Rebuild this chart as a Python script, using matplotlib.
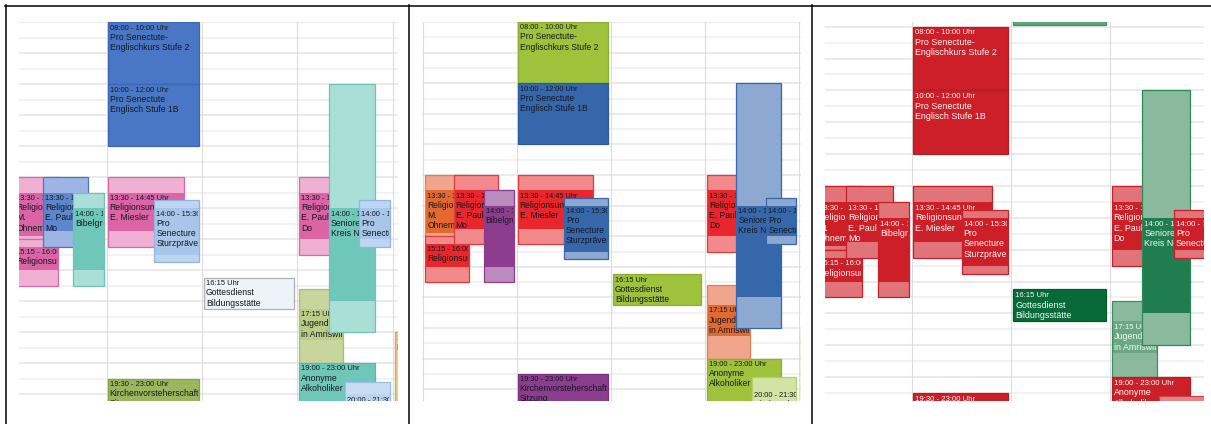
import matplotlib
matplotlib.use("Agg")
import matplotlib.pyplot as plt
from matplotlib.patches import Rectangle
from matplotlib.lines import Line2D
from matplotlib.transforms import offset_copy, Bbox, TransformedBbox

W, H, DPI = 1211, 424, 100

# ---------------- data: calendar events (same week shown in three colour schemes) ----------------
ev_day = [2, 1, 1, 1, 1, 1, 2, 0, 0, 0, 0, 3, 3, 3, 3, 3, 3, 4]
ev_start = [7.0, 8.0, 10.0, 13.5, 14.0, 19.5, 16.25, 13.5, 15.25, 13.5, 14.0, 13.5, 17.25, 14.0, 14.0, 19.0, 20.0, 18.0]
ev_end = [7.95, 10.0, 12.0, 14.75, 15.5, 23.0, 17.25, 14.9, 16.0, 14.75, 16.0, 15.0, 18.25, 17.0, 15.0, 23.0, 21.5, 23.0]
ev_halo_start = [7.0, 8.0, 10.0, 13.0, 13.75, 19.5, 16.25, 13.0, 15.0, 13.0, 13.5, 13.0, 16.6, 10.0, 13.75, 19.0, 19.6, 18.0]
ev_halo_end = [7.95, 10.0, 12.0, 15.25, 15.75, 23.0, 17.25, 15.0, 16.5, 15.25, 16.5, 15.5, 19.0, 18.0, 15.25, 23.0, 22.0, 23.0]
ev_time = ["07:00 - 08:00 Uhr", "08:00 - 10:00 Uhr", "10:00 - 12:00 Uhr", "13:30 - 14:45 Uhr",
           "14:00 - 15:30 Uhr", "19:30 - 23:00 Uhr", "16:15 Uhr", "13:30 - 14:45 Uhr",
           "15:15 - 16:00 Uhr", "13:30 - 14:45 Uhr", "14:00 - 16:00 Uhr", "13:30 - 15:00 Uhr",
           "17:15 Uhr", "14:00 - 17:00 Uhr", "14:00 - 15:00 Uhr", "19:00 - 23:00 Uhr",
           "20:00 - 21:30 Uhr", "18:00 - 23:00 Uhr"]
ev_title = [[""],
            ["Pro Senectute-", "Englischkurs Stufe 2"],
            ["Pro Senectute", "Englisch Stufe 1B"],
            ["Religionsunterricht", "E. Miesler"],
            ["Pro", "Senecture", "Sturzprävention"],
            ["Kirchenvorsteherschaft", "Sitzung"],
            ["Gottesdienst", "Bildungsstätte"],
            ["Religionsunterricht", "M.", "Ohnemus"],
            ["Religionsunterricht"],
            ["Religionsunterricht", "E. Paul", "Mo"],
            ["Bibelgruppe"],
            ["Religionsunterricht", "E. Paul", "Do"],
            ["Jugendtreff", "in Amriswil"],
            ["Senioren", "Kreis Nord"],
            ["Pro", "Senectute"],
            ["Anonyme", "Alkoholiker"],
            ["Kirchenchor"],
            ["Probe"]]

# colour category of each event in each of the three panels
cat_p1 = ['teal_solid', 'blue_solid', 'blue_solid', 'pink', 'ltblue', 'olive_solid', 'pale', 'pink', 'pink',
          'blue_mid', 'teal', 'pink', 'olive_lt', 'teal', 'ltblue', 'teal_solid', 'ltblue2', 'tan']
cat_p2 = ['yg', 'yg', 'blue2_solid', 'red', 'blue2', 'purple_solid', 'yg', 'orange', 'red', 'red', 'purple',
          'red', 'orange', 'blue2', 'blue2', 'yg', 'yg_lt', 'yg']
cat_p3 = ['green_mid', 'red_solid', 'red_solid', 'red3', 'red3', 'red_solid', 'green_dark', 'red3', 'red3',
          'red3', 'red3', 'red3', 'green_lt', 'green', 'red3', 'red_solid', 'red3_lt', 'red3']

# ---------------- layout (sub-column placement within a day column) ----------------
ev_left = [0.02, 0.01, 0.01, 0.01, 0.50, 0.01, 0.02, 0.03, 0.03, 0.33, 0.65, 0.02, 0.02, 0.33, 0.65, 0.02, 0.50, 0.02]
ev_right = [0.96, 0.965, 0.965, 0.81, 0.965, 0.965, 0.96, 0.49, 0.49, 0.80, 0.97, 0.49, 0.48, 0.81, 0.97, 0.81, 0.97, 0.5]

DARK = '#141820'
WHITE = '#f6f6f6'
palette = {
    # panel 1
    'blue_solid': ('#4a77c5', '#4a77c5', '#3b66b3', DARK),
    'pink': ('#efb0d4', '#da64a6', '#d66aa6', DARK),
    'ltblue': ('#bdd5f0', '#a7c6e9', '#8fb5e2', DARK),
    'olive_solid': ('#9bb65d', '#9bb65d', '#86a24a', DARK),
    'pale': ('#eef3fa', '#eef3fa', '#b0b0b0', DARK),
    'blue_mid': ('#9eb5e3', '#5e86cd', '#4a77c5', DARK),
    'teal': ('#aadfd7', '#6fc7b9', '#6dc3b6', DARK),
    'olive_lt': ('#c8d69e', '#bccd88', '#aabd77', DARK),
    'teal_solid': ('#6fc7b9', '#6fc7b9', '#5cb8a9', DARK),
    'ltblue2': ('#c8dcf2', '#bcd3ef', '#9cbde6', DARK),
    'tan': ('#f0c98f', '#f0c98f', '#d9a552', DARK),
    # panel 2
    'yg': ('#9ec23c', '#9ec23c', '#8aae2e', DARK),
    'blue2_solid': ('#3767ab', '#3767ab', '#2c5b9d', DARK),
    'red': ('#f2898a', '#e8262b', '#e23a3d', DARK),
    'orange': ('#efa68c', '#e2692f', '#e27d55', DARK),
    'purple': ('#ba8cbe', '#8c3d8e', '#8c3d8e', DARK),
    'purple_solid': ('#8c3d8e', '#8c3d8e', '#7a3280', DARK),
    'blue2': ('#8ea9d1', '#3767ab', '#3767ab', DARK),
    'yg_lt': ('#d2e3a3', '#d2e3a3', '#b5cf6e', DARK),
    # panel 3
    'red_solid': ('#cd1f28', '#cd1f28', '#b51c24', WHITE),
    'red3': ('#e07479', '#cd1f28', '#c8202a', WHITE),
    'red3_lt': ('#e3868a', '#e3868a', '#d0454b', WHITE),
    'green': ('#8bb99d', '#207d4f', '#2b8a56', WHITE),
    'green_lt': ('#8bb99d', '#6aa882', '#3c9060', WHITE),
    'green_dark': ('#076a38', '#076a38', '#055a2f', WHITE),
    'green_mid': ('#5ea77e', '#5ea77e', '#3e8f62', WHITE),
}

# panel geometry in pixels: visible calendar box, column origin/width, y of 08:00, px per hour
panels = [
    dict(x0=19, x1=398, col0=11.37, colw=95.33, y8=22.0, pph=31.0, cats=cat_p1),
    dict(x0=422, x1=801, col0=422.5, colw=94.2, y8=22.0, pph=30.6, cats=cat_p2),
    dict(x0=825, x1=1204, col0=813.6, colw=98.7, y8=26.7, pph=31.85, cats=cat_p3),
]
TOP, BOT = 22, 401

plt.rcParams['font.family'] = ['Liberation Sans', 'DejaVu Sans']
fig = plt.figure(figsize=(W / DPI, H / DPI), dpi=DPI)
fig.patch.set_facecolor('white')

for P in panels:
    ax = fig.add_axes([P['x0'] / W, 1 - BOT / H, (P['x1'] - P['x0']) / W, (BOT - TOP) / H])
    ax.set_xlim((P['x0'] - P['col0']) / P['colw'], (P['x1'] - P['col0']) / P['colw'])
    ax.set_ylim(8 + (BOT - P['y8']) / P['pph'], 8 + (TOP - P['y8']) / P['pph'])
    ax.axis('off')
    s = P['pph'] / 31.0
    xl = ax.get_xlim()
    yl = ax.get_ylim()
    # grid
    for k in range(14, 48):
        t = k / 2
        ax.axhline(t, color='#e4e4e4' if k % 2 == 0 else '#efefef', lw=1.1, zorder=0)
    for d in range(0, 6):
        ax.axvline(d, color='#dcdcdc', lw=0.8, zorder=0.5)
    # events
    for i in range(len(ev_day)):
        outer_c, inner_c, edge_c, txt_c = palette[P['cats'][i]]
        xa = ev_day[i] + ev_left[i]
        xb = ev_day[i] + ev_right[i]
        z = 2 + i
        outer = Rectangle((xa, ev_halo_start[i]), xb - xa, ev_halo_end[i] - ev_halo_start[i],
                          facecolor=outer_c, edgecolor='none', zorder=z)
        ax.add_patch(outer)
        ax.add_patch(Rectangle((xa, ev_start[i]), xb - xa, ev_end[i] - ev_start[i],
                               facecolor=inner_c, edgecolor='none', zorder=z + 0.1))
        ax.add_patch(Rectangle((xa, ev_halo_start[i]), xb - xa, ev_halo_end[i] - ev_halo_start[i],
                               fill=False, edgecolor=edge_c, lw=0.9, zorder=z + 0.2))
        # clip texts to the event box (and to the visible calendar area)
        cx0 = max(xa, xl[0]); cx1 = min(xb - 0.01, xl[1])
        cy0 = max(ev_halo_start[i], yl[1]); cy1 = min(ev_halo_end[i], yl[0])
        if cx1 <= cx0 or cy1 <= cy0:
            continue
        cbox = TransformedBbox(Bbox([[cx0, cy0], [cx1, cy1]]), ax.transData)
        tr = offset_copy(ax.transData, fig, x=2 * s, y=-7.5 * s, units='dots')
        t = ax.text(xa, ev_start[i], ev_time[i], transform=tr, fontsize=5.4 * s, color=txt_c,
                    va='baseline', ha='left', zorder=z + 0.3)
        t.set_clip_box(cbox)
        t.set_clip_on(True)
        for j, line in enumerate(ev_title[i]):
            tr = offset_copy(ax.transData, fig, x=2 * s, y=-(17.7 + 10.2 * j) * s, units='dots')
            t = ax.text(xa, ev_start[i], line, transform=tr, fontsize=6.25 * s, color=txt_c,
                        va='baseline', ha='left', zorder=z + 0.3)
            t.set_clip_box(cbox)
            t.set_clip_on(True)

# table borders around the three screenshots
lw = 1.1
def fline(x0, y0, x1, y1):
    fig.add_artist(Line2D([x0 / W, x1 / W], [1 - y0 / H, 1 - y1 / H], color='black', lw=lw,
                          transform=fig.transFigure))
fline(5.5, 5, 5.5, 424)
fline(5, 5.5, 1211, 5.5)
fline(408.5, 5, 408.5, 424)
fline(811.5, 5, 811.5, 424)

fig.savefig('out.png', dpi=DPI, facecolor='white')
